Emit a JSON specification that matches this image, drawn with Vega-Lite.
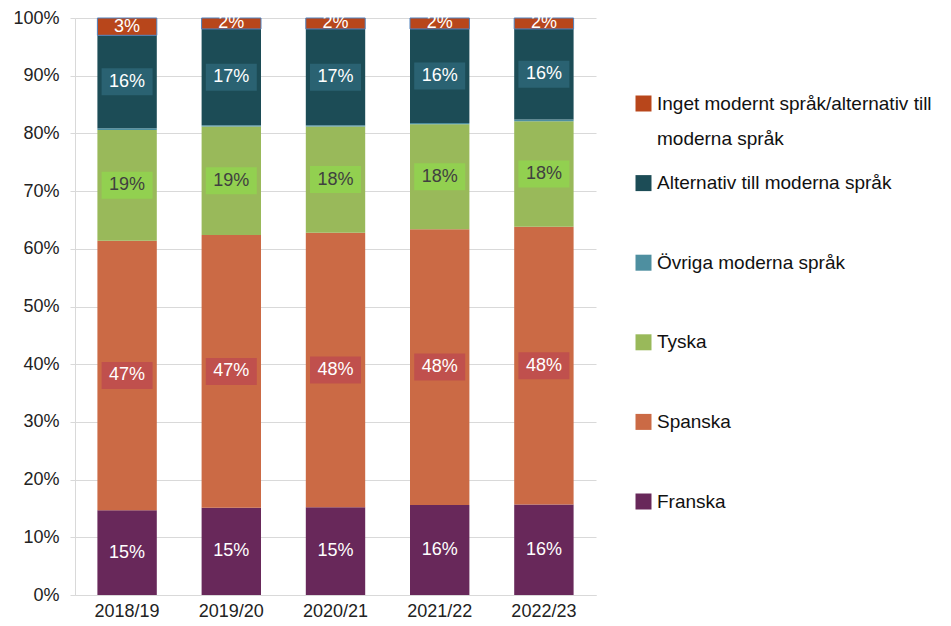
{
  "$schema": "https://vega.github.io/schema/vega-lite/v6.json",
  "width": 521,
  "height": 577,
  "autosize": {"type": "none"},
  "padding": {"left": 75, "top": 18, "right": 355, "bottom": 31},
  "background": "white",
  "config": {
    "font": "Liberation Sans",
    "view": {"stroke": null},
    "style": {"guide-label": {"lineHeight": 35}},
    "axis": {"labelFont": "Liberation Sans", "labelFontSize": 18, "labelColor": "#222222", "domainColor": "#D9D9D9", "gridColor": "#D9D9D9", "tickColor": "#D9D9D9", "title": null}
  },
  "data": {
    "values": [
      {"year": "2018/19", "series": "Franska", "value": 0.147},
      {"year": "2018/19", "series": "Spanska", "value": 0.467},
      {"year": "2018/19", "series": "Tyska", "value": 0.192},
      {"year": "2018/19", "series": "Övriga moderna språk", "value": 0.003},
      {"year": "2018/19", "series": "Alternativ till moderna språk", "value": 0.161},
      {"year": "2018/19", "series": "Inget modernt språk/alternativ till moderna språk", "value": 0.030},
      {"year": "2019/20", "series": "Franska", "value": 0.151},
      {"year": "2019/20", "series": "Spanska", "value": 0.473},
      {"year": "2019/20", "series": "Tyska", "value": 0.188},
      {"year": "2019/20", "series": "Övriga moderna språk", "value": 0.002},
      {"year": "2019/20", "series": "Alternativ till moderna språk", "value": 0.167},
      {"year": "2019/20", "series": "Inget modernt språk/alternativ till moderna språk", "value": 0.019},
      {"year": "2020/21", "series": "Franska", "value": 0.152},
      {"year": "2020/21", "series": "Spanska", "value": 0.476},
      {"year": "2020/21", "series": "Tyska", "value": 0.184},
      {"year": "2020/21", "series": "Övriga moderna språk", "value": 0.002},
      {"year": "2020/21", "series": "Alternativ till moderna språk", "value": 0.167},
      {"year": "2020/21", "series": "Inget modernt språk/alternativ till moderna språk", "value": 0.019},
      {"year": "2021/22", "series": "Franska", "value": 0.156},
      {"year": "2021/22", "series": "Spanska", "value": 0.478},
      {"year": "2021/22", "series": "Tyska", "value": 0.182},
      {"year": "2021/22", "series": "Övriga moderna språk", "value": 0.002},
      {"year": "2021/22", "series": "Alternativ till moderna språk", "value": 0.163},
      {"year": "2021/22", "series": "Inget modernt språk/alternativ till moderna språk", "value": 0.019},
      {"year": "2022/23", "series": "Franska", "value": 0.157},
      {"year": "2022/23", "series": "Spanska", "value": 0.481},
      {"year": "2022/23", "series": "Tyska", "value": 0.183},
      {"year": "2022/23", "series": "Övriga moderna språk", "value": 0.003},
      {"year": "2022/23", "series": "Alternativ till moderna språk", "value": 0.157},
      {"year": "2022/23", "series": "Inget modernt språk/alternativ till moderna språk", "value": 0.019}
    ]
  },
  "transform": [
    {"calculate": "indexof(['Franska','Spanska','Tyska','Övriga moderna språk','Alternativ till moderna språk','Inget modernt språk/alternativ till moderna språk'], datum.series)", "as": "order"},
    {"stack": "value", "groupby": ["year"], "sort": [{"field": "order", "order": "ascending"}], "as": ["y0", "y1"]},
    {"calculate": "(datum.y0 + datum.y1) / 2", "as": "mid"}
  ],
  "encoding": {
    "x": {"field": "year", "type": "nominal", "scale": {"paddingInner": 0.43, "paddingOuter": 0.215}, "axis": {"labelAngle": 0, "ticks": false, "labelPadding": 7, "grid": false}}
  },
  "layer": [
    {
      "mark": {"type": "bar", "strokeWidth": 1},
      "encoding": {
        "y": {"field": "y0", "type": "quantitative", "scale": {"domain": [0, 1]}, "axis": {"format": ".0%", "values": [0, 0.1, 0.2, 0.3, 0.4, 0.5, 0.6, 0.7, 0.8, 0.9, 1], "tickSize": 5, "labelPadding": 11, "grid": true}},
        "y2": {"field": "y1"},
        "color": {
          "field": "series", "type": "nominal",
          "scale": {
            "domain": ["Inget modernt språk/alternativ till moderna språk", "Alternativ till moderna språk", "Övriga moderna språk", "Tyska", "Spanska", "Franska"],
            "range": ["#B8461B", "#1C4C56", "#4E8FA0", "#99B95A", "#CB6A45", "#68285A"]
          },
          "legend": {
            "title": null,
            "orient": "none",
            "legendX": 559,
            "legendY": 76,
            "symbolType": "square",
            "symbolSize": 256,
            "symbolStrokeWidth": 0,
            "labelFont": "Liberation Sans",
            "labelFontSize": 19,
            "labelColor": "#111111",
            "labelOffset": 4,
            "labelLimit": 400,
            "gridAlign": "all",
            "rowPadding": 24.6,
            "labelExpr": "datum.label == 'Inget modernt språk/alternativ till moderna språk' ? ['Inget modernt språk/alternativ till', 'moderna språk'] : datum.label",
            "encode": {"labels": {"enter": {"lineHeight": {"value": 35}}, "update": {"lineHeight": {"value": 35}}}}
          }
        },
        "stroke": {
          "condition": {"test": "datum.series == 'Inget modernt språk/alternativ till moderna språk'", "value": "#4F81BD"},
          "value": "transparent"
        }
      }
    },
    {
      "transform": [{"filter": "datum.series == 'Spanska' || datum.series == 'Tyska' || datum.series == 'Alternativ till moderna språk'"}],
      "mark": {"type": "point", "filled": true, "opacity": 1, "shape": "M-1,-0.53H1V0.53H-1Z", "size": 2601},
      "encoding": {
        "y": {"field": "mid", "type": "quantitative"},
        "color": {
          "field": "series", "type": "nominal",
          "scale": {"domain": ["Alternativ till moderna språk", "Tyska", "Spanska"], "range": ["#2A6272", "#92D050", "#C0504D"]},
          "legend": null
        }
      }
    },
    {
      "transform": [{"filter": "datum.series != 'Övriga moderna språk'"}],
      "mark": {"type": "text", "fontSize": 18, "font": "Liberation Sans", "baseline": "middle", "align": "center"},
      "encoding": {
        "y": {"field": "mid", "type": "quantitative"},
        "text": {"field": "value", "type": "quantitative", "format": ".0%"},
        "color": {"condition": {"test": "datum.series == 'Tyska'", "value": "#404040"}, "value": "#FFFFFF"}
      }
    }
  ],
  "resolve": {"scale": {"color": "independent"}}
}
